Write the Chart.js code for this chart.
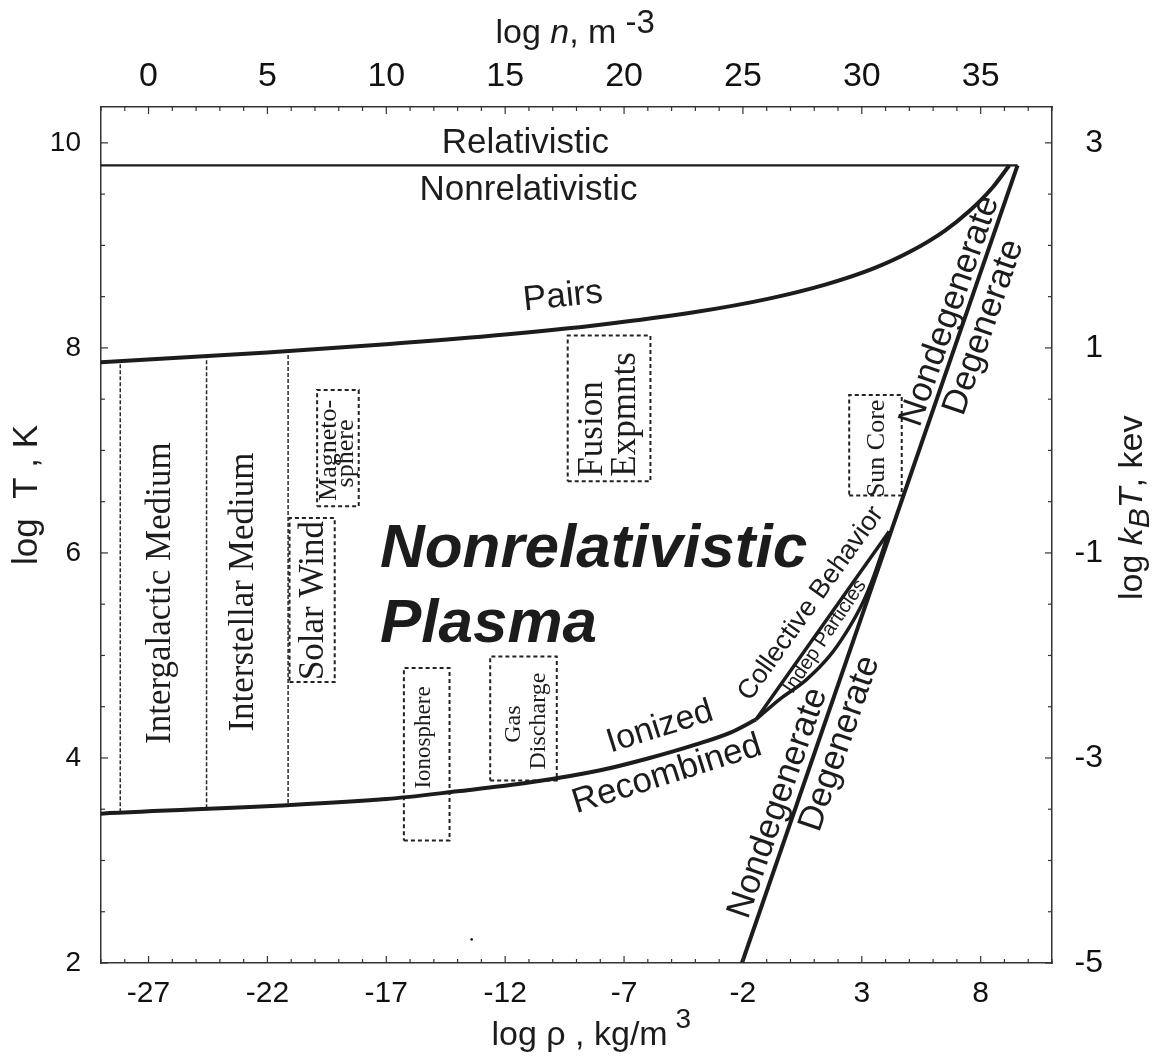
<!DOCTYPE html>
<html><head><meta charset="utf-8">
<script src="https://cdn.jsdelivr.net/npm/chart.js@4/dist/chart.umd.min.js"></script>
<style>html,body{margin:0;padding:0;background:#fff;overflow:hidden}canvas{display:block}</style>
</head><body>
<canvas id="c" width="1162" height="1059" style="width:1162px;height:1059px"></canvas>
<script>
// ---------- DATA (log rho [kg/m^3], log T [K]) ----------
const rhoTicks = [-27, -22, -17, -12, -7, -2, 3, 8];
const nTicks = [0, 5, 10, 15, 20, 25, 30, 35];
const logTTicks = [2, 4, 6, 8, 10];
const kTTicks = [-5, -3, -1, 1, 3];

const relRho = [-29, 9.55];
const relLogT = [9.78, 9.78];

const pairsRho = [-29, -22, -17, -12, -8, -4, -1, 1.5, 3.5, 5, 6.5, 7.5, 8.5, 9.2];
const pairsLogT = [7.86, 7.955, 8.035, 8.13, 8.226, 8.35, 8.476, 8.62, 8.776, 8.935, 9.145, 9.33, 9.565, 9.78];

const ionRho = [-29, -17, -14, -11, -8, -6, -4, -2.5, -1.45];
const ionLogT = [3.457, 3.60, 3.675, 3.76, 3.88, 3.995, 4.13, 4.25, 4.375];

const degenRho = [-2.04, 9.55];
const degenLogT = [2, 9.78];

const collRho = [-1.45, 4.15];
const collLogT = [4.375, 6.21];

const indepRho = [-1.45, -0.47, 0.65, 1.63, 2.33, 3.03, 3.45, 4.15];
const indepLogT = [4.375, 4.57, 4.76, 4.99, 5.22, 5.51, 5.74, 6.21];

const regionRho = [-28.19, -24.56, -21.13];
const regionTop = [7.87, 7.91, 7.96];
const regionBottom = [3.47, 3.51, 3.56];

const boxNames = ['Magnetosphere', 'Solar Wind', 'Fusion Expmnts', 'Ionosphere', 'Gas Discharge', 'Sun Core'];
const boxRhoMin = [-19.91, -21.07, -9.37, -16.26, -12.63, 2.47];
const boxRhoMax = [-18.16, -19.17, -5.89, -14.34, -9.83, 4.68];
const boxTMin = [6.455, 4.74, 6.70, 3.196, 3.78, 6.56];
const boxTMax = [7.59, 6.34, 8.12, 4.878, 4.99, 7.54];

const dotRho = [-13.41];
const dotLogT = [2.23];

// ---------- styles ----------
const SANS = "'Liberation Sans', Arial, Helvetica, sans-serif";
const SERIF = "'Liberation Serif', 'Times New Roman', serif";
const INK = '#1c1c1c';

const pts = (xs, ys) => xs.map((x, i) => ({x: x, y: ys[i]}));
const solid = (data, w, extra) => Object.assign({data: data, showLine: true, borderColor: INK, borderWidth: w,
  pointRadius: 0, fill: false, xAxisID: 'x', yAxisID: 'y'}, extra || {});

const datasets = [
  solid(pts(relRho, relLogT), 2.3),
  solid(pts(pairsRho, pairsLogT), 4, {cubicInterpolationMode: 'monotone'}),
  solid(pts(ionRho, ionLogT), 4, {cubicInterpolationMode: 'monotone'}),
  solid(pts(degenRho, degenLogT), 4),
  solid(pts(collRho, collLogT), 3.5),
  solid(pts(indepRho, indepLogT), 3.5, {cubicInterpolationMode: 'monotone'}),
];
regionRho.forEach((r, i) => datasets.push(solid(pts([r, r], [regionBottom[i], regionTop[i]]), 1.5,
  {borderDash: [4, 2], borderColor: '#2a2a2a'})));
boxNames.forEach((n, i) => datasets.push(solid(pts(
  [boxRhoMin[i], boxRhoMax[i], boxRhoMax[i], boxRhoMin[i], boxRhoMin[i]],
  [boxTMin[i], boxTMin[i], boxTMax[i], boxTMax[i], boxTMin[i]]), 2,
  {borderDash: [4, 3], borderColor: '#222'})));
datasets.push({data: pts(dotRho, dotLogT), showLine: false, pointRadius: 1.3, pointBackgroundColor: INK,
  pointBorderWidth: 0, xAxisID: 'x', yAxisID: 'y'});

// ---------- annotation labels (anchor in data coordinates) ----------
const labels = [
  {t: 'Relativistic', x: -11.15, y: 9.905, f: `35px ${SANS}`, a: 0, al: 'center', b: 'alphabetic'},
  {t: 'Nonrelativistic', x: -11.02, y: 9.447, f: `35px ${SANS}`, a: 0, al: 'center', b: 'alphabetic'},
  {t: 'Pairs', x: -9.57, y: 8.50, f: `35px ${SANS}`, a: -6, al: 'center', b: 'middle'},
  {t: 'Nonrelativistic', x: -17.27, y: 5.866, f: `italic bold 62px ${SANS}`, a: 0, al: 'left', b: 'alphabetic'},
  {t: 'Plasma', x: -17.27, y: 5.135, f: `italic bold 62px ${SANS}`, a: 0, al: 'left', b: 'alphabetic'},
  {t: 'Intergalactic Medium', x: -26.10, y: 5.608, f: `35px ${SERIF}`, a: -90, al: 'center', b: 'alphabetic'},
  {t: 'Interstellar Medium', x: -22.61, y: 5.618, f: `35px ${SERIF}`, a: -90, al: 'center', b: 'alphabetic'},
  {t: 'Solar Wind', x: -19.66, y: 5.535, f: `35px ${SERIF}`, a: -90, al: 'center', b: 'alphabetic'},
  {t: 'Magneto-', x: -19.12, y: 7.0, f: `26px ${SERIF}`, a: -90, al: 'center', b: 'alphabetic'},
  {t: 'sphere', x: -18.40, y: 6.97, f: `26px ${SERIF}`, a: -90, al: 'center', b: 'alphabetic'},
  {t: 'Fusion', x: -7.94, y: 6.744, f: `35px ${SERIF}`, a: -90, al: 'left', b: 'alphabetic'},
  {t: 'Expmnts', x: -6.54, y: 6.744, f: `35px ${SERIF}`, a: -90, al: 'left', b: 'alphabetic'},
  {t: 'Ionosphere', x: -15.16, y: 4.20, f: `23px ${SERIF}`, a: -90, al: 'center', b: 'alphabetic'},
  {t: 'Gas', x: -11.38, y: 4.33, f: `24px ${SERIF}`, a: -90, al: 'center', b: 'alphabetic'},
  {t: 'Discharge', x: -10.33, y: 4.36, f: `24px ${SERIF}`, a: -90, al: 'center', b: 'alphabetic'},
  {t: 'Sun Core', x: 3.93, y: 7.02, f: `26px ${SERIF}`, a: -90, al: 'center', b: 'alphabetic'},
  {t: 'Ionized', x: -5.49, y: 4.30, f: `34px ${SANS}`, a: -17.5, al: 'center', b: 'middle'},
  {t: 'Recombined', x: -5.19, y: 3.84, f: `35px ${SANS}`, a: -17.5, al: 'center', b: 'middle'},
  {t: 'Collective Behavior', x: 0.86, y: 5.507, f: `27px ${SANS}`, a: -54.5, al: 'center', b: 'middle'},
  {t: 'Indep Particles', x: 1.45, y: 5.185, f: `20px ${SANS}`, a: -56, al: 'center', b: 'middle'},
  {t: 'Nondegenerate', x: -0.52, y: 3.56, f: `35px ${SANS}`, a: -70.85, al: 'center', b: 'middle'},
  {t: 'Degenerate', x: 2.08, y: 4.14, f: `35px ${SANS}`, a: -70.85, al: 'center', b: 'middle'},
  {t: 'Nondegenerate', x: 6.71, y: 8.36, f: `35px ${SANS}`, a: -70.85, al: 'center', b: 'middle'},
  {t: 'Degenerate', x: 8.14, y: 8.20, f: `35px ${SANS}`, a: -70.85, al: 'center', b: 'middle'},
];

function runs(ctx, x, y, angle, parts) {
  ctx.save();
  ctx.translate(x, y);
  ctx.rotate(angle * Math.PI / 180);
  ctx.textAlign = 'left';
  ctx.textBaseline = 'alphabetic';
  ctx.fillStyle = INK;
  let cx = 0;
  parts.forEach(p => {
    ctx.font = p.f;
    ctx.fillText(p.t, cx, p.dy || 0);
    cx += ctx.measureText(p.t).width;
  });
  ctx.restore();
}

const annot = {
  id: 'annot',
  afterDraw(chart) {
    const {ctx, scales, chartArea: a} = chart;
    const sx = scales.x, sy = scales.y;
    ctx.save();
    // inward tick marks
    ctx.strokeStyle = '#333';
    ctx.lineWidth = 1.2;
    const seg = (x1, y1, x2, y2) => { ctx.beginPath(); ctx.moveTo(x1, y1); ctx.lineTo(x2, y2); ctx.stroke(); };
    for (let v = Math.ceil(sx.min); v <= sx.max; v++) {
      const p = sx.getPixelForValue(v);
      const major = rhoTicks.includes(v);
      seg(p, a.bottom, p, a.bottom - (major ? 7 : 4));
    }
    const sx2 = scales.x2;
    for (let v = Math.ceil(sx2.min); v <= sx2.max; v++) {
      const p = sx2.getPixelForValue(v);
      const major = nTicks.includes(v);
      seg(p, a.top, p, a.top + (major ? 7 : 4));
    }
    for (let v = sy.min; v <= sy.max + 1e-9; v += 0.5) {
      const p = sy.getPixelForValue(v);
      const major = logTTicks.includes(v);
      seg(a.left, p, a.left + (major ? 7 : 4), p);
    }
    const sy2 = scales.y2;
    for (let v = sy2.min; v <= sy2.max + 1e-9; v += 0.5) {
      const p = sy2.getPixelForValue(v);
      const major = kTTicks.includes(v);
      seg(a.right, p, a.right - (major ? 7 : 4), p);
    }
    // annotation labels
    ctx.fillStyle = INK;
    labels.forEach(l => {
      ctx.save();
      ctx.translate(sx.getPixelForValue(l.x), sy.getPixelForValue(l.y));
      ctx.rotate(l.a * Math.PI / 180);
      ctx.font = l.f;
      ctx.textAlign = l.al;
      ctx.textBaseline = l.b;
      ctx.fillText(l.t, 0, 0);
      ctx.restore();
    });
    // axis titles
    const cx = (a.left + a.right) / 2;
    runs(ctx, cx - 81, 43, 0, [
      {t: 'log ', f: `34px ${SANS}`}, {t: 'n', f: `italic 34px ${SANS}`},
      {t: ', m', f: `34px ${SANS}`}, {t: ' -3', f: `33px ${SANS}`, dy: -10}]);
    runs(ctx, cx - 85, 1045, 0, [
      {t: 'log ', f: `34px ${SANS}`}, {t: 'ρ', f: `34px ${SANS}`},
      {t: ' , kg/m', f: `34px ${SANS}`}, {t: ' 3', f: `28px ${SANS}`, dy: -17}]);
    runs(ctx, 37, 565, -90, [{t: 'log  T , K', f: `35px ${SANS}`}]);
    runs(ctx, 1142, 600, -90, [
      {t: 'log ', f: `34px ${SANS}`}, {t: 'k', f: `italic 34px ${SANS}`},
      {t: 'B', f: `italic 30px ${SANS}`, dy: 6.5}, {t: 'T', f: `italic 34px ${SANS}`},
      {t: ', kev', f: `34px ${SANS}`}]);
    ctx.restore();
  }
};

const setTicks = arr => (s => { s.ticks = arr.map(v => ({value: v})); });
const axisCommon = () => ({
  type: 'linear',
  grid: {display: false, drawTicks: false},
  border: {display: true, color: '#333', width: 1.5},
});

new Chart(document.getElementById('c'), {
  type: 'scatter',
  data: {datasets: datasets},
  options: {
    responsive: false,
    animation: false,
    layout: {padding: {left: 0, right: 59, top: 0, bottom: 0}},
    plugins: {legend: {display: false}, tooltip: {enabled: false}},
    elements: {line: {tension: 0}},
    scales: {
      x: Object.assign(axisCommon(), {position: 'bottom', min: -29, max: 11,
        afterBuildTicks: setTicks(rhoTicks), afterFit: s => { s.height = 96; },
        ticks: {color: '#111', font: {family: SANS, size: 30}, padding: 13, maxRotation: 0, autoSkip: false}}),
      x2: Object.assign(axisCommon(), {position: 'top', min: -2, max: 38,
        afterBuildTicks: setTicks(nTicks), afterFit: s => { s.height = 107; },
        ticks: {color: '#111', font: {family: SANS, size: 34}, padding: 10, maxRotation: 0, autoSkip: false}}),
      y: Object.assign(axisCommon(), {position: 'left', min: 2, max: 10.35,
        afterBuildTicks: setTicks(logTTicks), afterFit: s => { s.width = 101; },
        ticks: {color: '#111', font: {family: SANS, size: 28}, padding: 20, autoSkip: false}}),
      y2: Object.assign(axisCommon(), {position: 'right', min: -5, max: 3.35,
        afterBuildTicks: setTicks(kTTicks), afterFit: s => { s.width = 51; },
        ticks: {color: '#111', font: {family: SANS, size: 32}, padding: 0, crossAlign: 'far', autoSkip: false}}),
    }
  },
  plugins: [annot]
});
</script>
</body></html>
